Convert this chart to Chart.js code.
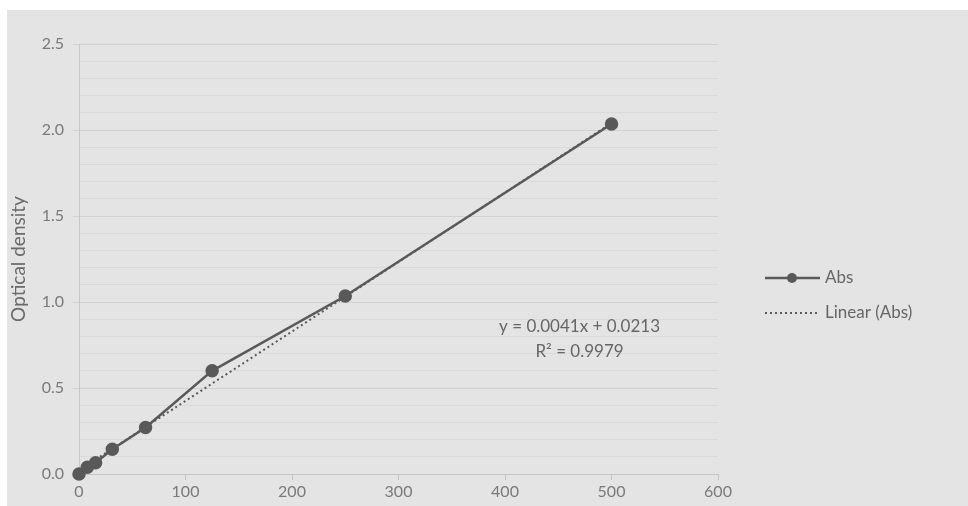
<!DOCTYPE html>
<html>
<head>
<meta charset="utf-8">
<script src="https://cdn.jsdelivr.net/npm/chart.js@4"></script>
<style>
  html, body { margin: 0; padding: 0; background: #fff; }
  #wrap { width: 968px; height: 506px; position: relative; }
</style>
</head>
<body>
<div id="wrap"><canvas id="chart"></canvas></div>
<script>
// data
const concX = [0, 7.8, 15.6, 31.25, 62.5, 125, 250, 500];
const absY  = [0.0, 0.039, 0.066, 0.144, 0.27, 0.60, 1.035, 2.035];
const trendX = [0, 500];
const trendY = [0.021, 2.04];
const xTicks = [0, 100, 200, 300, 400, 500, 600];
const yTickLabels = ['0.0', '0.5', '1.0', '1.5', '2.0', '2.5'];
const eqLines = ['y = 0.0041x + 0.0213', 'R² = 0.9979'];
const legendLabels = ['Abs', 'Linear (Abs)'];

const FONT = 'Lato, "Open Sans", sans-serif';
const INK = '#595959';

// gray panel + legend + equation
const decor = {
    id: 'decor',
    beforeDraw(chart) {
        const ctx = chart.ctx;
        ctx.save();
        ctx.fillStyle = '#ffffff';
        ctx.fillRect(0, 0, chart.width, chart.height);
        ctx.fillStyle = '#e4e4e4';
        ctx.fillRect(7, 10, chart.width - 7, chart.height - 10);
        ctx.restore();
    },
    afterDraw(chart) {
        const ctx = chart.ctx;
        const xs = chart.scales.x, ys = chart.scales.y;
        ctx.save();

        // equation
        ctx.fillStyle = '#666';
        ctx.font = '17px ' + FONT;
        ctx.textAlign = 'center';
        ctx.textBaseline = 'middle';
        ctx.fillText(eqLines[0], xs.getPixelForValue(470), ys.getPixelForValue(0.855));
        ctx.fillText(eqLines[1], xs.getPixelForValue(470), ys.getPixelForValue(0.715));

        // legend
        const lx = 765;
        ctx.strokeStyle = INK;
        ctx.lineWidth = 2.5;
        ctx.beginPath();
        ctx.moveTo(lx, 278); ctx.lineTo(lx + 55, 278);
        ctx.stroke();
        ctx.fillStyle = INK;
        ctx.beginPath();
        ctx.arc(lx + 27, 278, 5, 0, Math.PI * 2);
        ctx.fill();

        ctx.lineWidth = 2;
        ctx.setLineDash([2, 3]);
        ctx.beginPath();
        ctx.moveTo(lx, 313); ctx.lineTo(lx + 52, 313);
        ctx.stroke();
        ctx.setLineDash([]);

        ctx.fillStyle = '#666';
        ctx.font = '17px ' + FONT;
        ctx.textAlign = 'left';
        ctx.fillText(legendLabels[0], lx + 60, 278);
        ctx.fillText(legendLabels[1], lx + 60, 313);
        ctx.restore();
    }
};

new Chart(document.getElementById('chart'), {
    type: 'scatter',
    data: {
        datasets: [
            {
                label: legendLabels[0],
                data: concX.map((x, i) => ({ x, y: absY[i] })),
                showLine: true,
                borderColor: INK,
                backgroundColor: INK,
                borderWidth: 2.5,
                pointRadius: 5.5,
                pointHoverRadius: 5.5,
                clip: false,
                order: 1
            },
            {
                label: legendLabels[1],
                data: trendX.map((x, i) => ({ x, y: trendY[i] })),
                showLine: true,
                borderColor: INK,
                borderWidth: 2,
                borderDash: [2, 3],
                pointRadius: 0,
                clip: false,
                order: 2
            }
        ]
    },
    options: {
        responsive: true,
        maintainAspectRatio: false,
        animation: false,
        layout: { padding: { left: 7, top: 44, right: 250, bottom: 0 } },
        plugins: {
            legend: { display: false },
            tooltip: { enabled: false }
        },
        scales: {
            x: {
                type: 'linear',
                min: 0,
                max: 600,
                afterBuildTicks: s => { s.ticks = xTicks.map(v => ({ value: v })); },
                afterFit: s => { s.height = 32; },
                grid: {
                    drawOnChartArea: false,
                    drawTicks: true,
                    tickLength: 6,
                    color: '#c4c4c4'
                },
                border: { color: '#c4c4c4' },
                ticks: {
                    color: '#7a7a7a',
                    font: { family: FONT, size: 16 },
                    padding: 2,
                    maxRotation: 0
                }
            },
            y: {
                min: 0,
                max: 2.5,
                afterFit: s => { s.width = 72; },
                ticks: {
                    stepSize: 0.1,
                    autoSkip: false,
                    color: '#7a7a7a',
                    font: { family: FONT, size: 16 },
                    padding: 9,
                    callback: v => {
                        const k = Math.round(v * 10);
                        return k % 5 === 0 ? yTickLabels[k / 5] : '';
                    }
                },
                grid: {
                    color: c => (Math.round(c.tick.value * 10) % 5 === 0 ? '#d2d2d2' : '#dadada'),
                    tickColor: c => (Math.round(c.tick.value * 10) % 5 === 0 ? '#d2d2d2' : 'rgba(0,0,0,0)'),
                    tickLength: 6,
                    lineWidth: 1
                },
                border: { color: '#c8c8c8' },
                title: {
                    display: true,
                    text: 'Optical density',
                    color: '#6a6a6a',
                    font: { family: FONT, size: 19 },
                    padding: { top: 0, bottom: 2 }
                }
            }
        }
    },
    plugins: [decor]
});
</script>
</body>
</html>
